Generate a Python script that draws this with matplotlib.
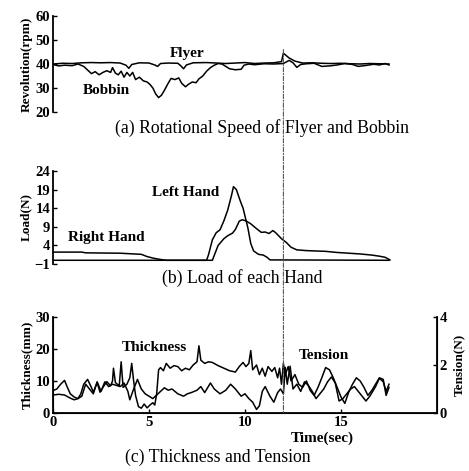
import matplotlib
matplotlib.use('Agg')
import matplotlib.pyplot as plt
from matplotlib.patches import ConnectionPatch

# (a) rotational speed, rpm
flyer_t = [0, 0.5, 1.0, 1.5, 2.0, 2.5, 3.0, 3.5, 3.8, 3.95, 4.1, 4.5, 5.0, 5.3, 5.45, 5.6,
           6.0, 6.5, 6.65, 6.8, 6.95, 7.3, 8.0, 8.5, 9.0, 9.5, 10.0, 10.5, 11.0, 11.5, 11.9,
           12.0, 12.3, 12.6, 13.0, 13.5, 14.0, 14.5, 15.0, 15.5, 16.0, 16.5, 17.0, 17.5]
flyer_v = [40, 40.3, 40.2, 40.5, 40.6, 40.5, 40.6, 40.4, 39.5, 38.2, 39.8, 40.5, 40.4, 39.6, 39.0, 40.2,
           40.4, 40.3, 39.3, 38.0, 39.6, 40.5, 40.6, 40.4, 40.2, 40.4, 40.6, 40.2, 40.4, 40.5, 41.0,
           44.5, 42.5, 41.2, 40.4, 40.5, 40.3, 40.2, 40.3, 40.1, 40.0, 40.2, 40.1, 40.0]
bobbin_t = [0, 0.3, 0.6, 1.0, 1.3, 1.6, 1.8, 2.0, 2.2, 2.4, 2.6, 2.8, 3.0, 3.1, 3.25, 3.4, 3.55,
            3.7, 3.85, 4.0, 4.15, 4.3, 4.5, 4.7, 4.9, 5.05, 5.2, 5.35, 5.5, 5.65, 5.8, 6.0, 6.15,
            6.35, 6.55, 6.7, 6.9, 7.05, 7.25, 7.45, 7.6, 7.8, 8.0, 8.2, 8.4, 8.6, 8.8, 9.0, 9.2,
            9.5, 9.8, 9.95, 10.2, 10.5, 11.0, 11.5, 12.0, 12.3, 12.5, 12.7, 12.9, 13.2, 13.6,
            14.0, 14.4, 14.8, 15.2, 15.6, 15.9, 16.3, 16.7, 17.0, 17.3, 17.5]
bobbin_v = [39.8, 39.2, 39.5, 39.3, 40.0, 39.0, 37.5, 36.0, 36.8, 35.5, 36.5, 37.2, 36.5, 38.5, 36.2,
            35.5, 37.0, 34.5, 36.5, 35.0, 36.5, 33.5, 34.5, 33.0, 32.5, 31.5, 30.0, 27.5, 26.0,
            27.0, 29.0, 32.0, 34.0, 33.5, 34.2, 32.0, 30.5, 31.5, 32.5, 32.2, 33.8, 35.0, 37.0,
            38.5, 39.5, 40.2, 40.0, 39.0, 38.0, 37.6, 37.8, 39.5, 40.0, 39.7, 40.1, 40.0, 40.2,
            41.5, 40.5, 38.6, 39.8, 40.1, 40.3, 39.0, 39.2, 39.6, 40.2, 39.8, 39.0, 39.4, 39.9,
            39.6, 40.2, 39.6]

# (b) load of each hand, N
left_t = [0, 8.0, 8.1, 8.3, 8.5, 8.7, 8.9, 9.1, 9.3, 9.4, 9.55, 9.75, 9.9, 10.15, 10.3, 10.45,
          10.7, 10.95, 11.15, 11.3, 17.5]
left_v = [0, 0, 1.5, 5.5, 7.4, 8.2, 10.6, 13.5, 17.5, 19.8, 19.0, 16.0, 14.0, 8.7, 4.5, 2.5,
          1.6, 1.4, 0.8, 0.1, 0]
right_t = [0, 1.5, 1.7, 3.5, 4.6, 4.9, 5.2, 5.5, 5.9, 8.3, 8.45, 8.6, 8.9, 9.1, 9.35, 9.5, 9.7,
           9.85, 10.05, 10.3, 10.6, 10.85, 11.05, 11.25, 11.45, 11.6, 11.9, 12.15, 12.4, 12.7,
           13.2, 14.2, 14.8, 15.4, 16.0, 16.6, 17.0, 17.3, 17.55]
right_v = [2.2, 2.2, 2.0, 1.9, 1.6, 1.0, 0.6, 0.3, 0, 0, 2.0, 4.0, 5.8, 6.6, 7.3, 8.3, 10.5,
           10.9, 10.6, 9.8, 8.5, 7.5, 7.6, 7.2, 8.0, 7.4, 5.8, 4.8, 3.5, 2.8,
           2.6, 2.4, 2.1, 1.9, 1.7, 1.4, 1.1, 0.8, 0.1]

# (c) thickness (mm) and tension (N)
thick_t = [0, 0.2, 0.4, 0.6, 0.75, 0.9, 1.1, 1.3, 1.45, 1.6, 1.8, 2.0, 2.1, 2.3, 2.45, 2.6, 2.8,
           3.0, 3.1, 3.15, 3.25, 3.45, 3.55, 3.65, 3.85, 4.0, 4.1, 4.2, 4.3, 4.45, 4.6, 4.75,
           4.9, 5.05, 5.2, 5.3, 5.4, 5.5, 5.6, 5.75, 5.9, 6.1, 6.3, 6.5, 6.7, 6.9, 7.1, 7.3,
           7.5, 7.6, 7.7, 7.9, 8.1, 8.3, 8.6, 8.9, 9.2, 9.5, 9.7, 9.9, 10.05, 10.2, 10.3, 10.4,
           10.6, 10.75, 10.9, 11.05, 11.2, 11.4, 11.55, 11.7, 11.8, 11.9, 12.0, 12.1, 12.25,
           12.4, 12.6, 12.8, 13.0, 13.2, 13.4, 13.6, 13.8, 14.0, 14.2, 14.4, 14.6, 14.8, 15.0,
           15.2, 15.4, 15.6, 15.8, 16.0, 16.2, 16.4, 16.6, 16.8, 17.0, 17.2, 17.35, 17.5]
thick_v = [7, 7.5, 9, 10.2, 8, 6, 5, 4.5, 6, 9, 10.5, 8, 6.5, 9.5, 6.5, 8, 9.8,
           8.5, 10, 14, 9.5, 8.5, 16, 8, 9, 11, 15.5, 10, 5.5, 2, 1.5, 2.8,
           1.6, 2.5, 3.2, 2.5, 6, 13.5, 14.2, 13.2, 15.5, 14, 14.8, 14.5, 13.2, 14, 13.5, 15,
           16, 21, 16.5, 15.5, 16, 15.8, 14.8, 14, 13.2, 12.8, 14.5, 15.8, 14.5, 15.5, 19.5, 13.5,
           15, 12, 14, 11.5, 14.5, 13, 14.2, 11, 14, 9, 15.5, 12, 14.5,
           10, 12, 9, 8, 10, 7, 5.5, 8, 11, 14.2, 13.5, 11, 8, 5,
           3, 6.5, 9, 11, 10, 8, 5.5, 7, 9, 11, 10.5, 5.5, 8]
tens_t = [0, 0.3, 0.6, 0.9, 1.1, 1.3, 1.5, 1.7, 1.9, 2.1, 2.3, 2.5, 2.7, 2.9, 3.1, 3.3, 3.5,
          3.7, 3.9, 4.0, 4.2, 4.4, 4.6, 4.8, 5.0, 5.2, 5.4, 5.6, 5.8, 6.0, 6.2, 6.5, 6.8, 7.0,
          7.2, 7.5, 7.7, 7.9, 8.2, 8.4, 8.7, 9.0, 9.25, 9.5, 9.8, 10.0, 10.2, 10.4, 10.6, 10.75,
          10.9, 11.05, 11.3, 11.5, 11.7, 11.85, 12.0, 12.1, 12.2, 12.35, 12.5, 12.7, 12.9, 13.1,
          13.3, 13.5, 13.7, 13.9, 14.1, 14.3, 14.5, 14.7, 14.9, 15.1, 15.3, 15.5, 15.7, 15.9,
          16.1, 16.3, 16.5, 16.8, 17.0, 17.2, 17.35, 17.5]
tens_v = [0.75, 0.78, 0.75, 0.62, 0.55, 0.6, 0.7, 1.2, 1.0, 0.8, 1.3, 0.9, 1.3, 1.1, 1.2, 1.15, 1.1,
          1.25, 0.9, 0.55, 1.0, 1.4, 1.0, 0.8, 0.7, 0.6, 0.75, 0.9, 1.05, 0.95, 1.0, 0.8, 0.7, 0.8,
          0.85, 0.95, 1.1, 0.85, 1.25, 1.0, 0.8, 0.95, 1.2, 1.0, 0.7, 0.8, 0.6, 0.45, 0.15, 0.3,
          0.9, 1.1, 0.7, 0.45, 0.85, 1.0, 0.8, 1.9, 1.2, 1.95, 1.0, 1.2, 0.9, 1.3,
          1.15, 0.9, 0.6, 0.8, 1.0, 1.3, 1.5, 1.25, 0.5, 0.6, 0.8, 1.0, 1.1, 0.9,
          0.7, 0.5, 0.7, 1.1, 1.45, 1.3, 0.9, 1.2]

plt.rcParams['font.family'] = ['Liberation Serif', 'DejaVu Serif']

fig = plt.figure(figsize=(4.69, 4.71), dpi=100)
W, H = 469, 471

def add_ax(top, bottom):
    return fig.add_axes([53 / W, 1 - bottom / H, 384 / W, (bottom - top) / H])

bold = dict(fontweight='bold', fontsize=11)
ylab = dict(fontweight='bold', fontsize=9.5)
lw = 1.1

# panel (a)
ax_a = add_ax(16, 112)
ax_a.plot(flyer_t, flyer_v, color='black', lw=lw)
ax_a.plot(bobbin_t, bobbin_v, color='black', lw=lw)
ax_a.set_xlim(0, 20)
ax_a.set_ylim(20, 60)
ax_a.set_yticks([20, 30, 40, 50, 60])
ax_a.set_ylabel('Revolution(rpm)', **ylab, labelpad=2)
ax_a.text(7.0, 44.2, 'Flyer', ha='center', va='center', **bold)
ax_a.text(2.8, 29.0, 'Bobbin', ha='center', va='center', **bold)

# panel (b)
ax_b = add_ax(171, 264)
ax_b.plot(left_t, left_v, color='black', lw=lw)
ax_b.plot(right_t, right_v, color='black', lw=lw)
ax_b.set_xlim(0, 20)
ax_b.set_ylim(-1, 24)
ax_b.set_yticks([-1, 4, 9, 14, 19, 24])
ax_b.set_ylabel('Load(N)', **ylab, labelpad=2)
ax_b.text(6.9, 18.3, 'Left Hand', ha='center', va='center', **bold)
ax_b.text(2.8, 6.0, 'Right Hand', ha='center', va='center', **bold)

for ax in (ax_a, ax_b):
    for s in ('top', 'right', 'bottom'):
        ax.spines[s].set_visible(False)
    ax.set_xticks([])
    ax.spines['left'].set_linewidth(1.3)

# panel (c)
ax_c = add_ax(317, 413)
ax_c.plot(thick_t, thick_v, color='black', lw=lw)
ax_c.set_xlim(0, 20)
ax_c.set_ylim(0, 30)
ax_c.set_xticks([0, 5, 10, 15])
ax_c.set_yticks([0, 10, 20, 30])
ax_c.set_ylabel('Thickness(mm)', **ylab, labelpad=2)
ax_c.spines['top'].set_visible(False)
ax_c.text(5.3, 20.5, 'Thickness', ha='center', va='center', **bold)
ax_c.text(14.1, 18, 'Tension', ha='center', va='center', **bold)
ax_c.text(14.0, -8.0, 'Time(sec)', ha='center', va='center', **bold)

ax_t = ax_c.twinx()
ax_t.plot(tens_t, tens_v, color='black', lw=lw)
ax_t.set_ylim(0, 4)
ax_t.set_yticks([0, 2, 4])
ax_t.set_ylabel('Tension(N)', **ylab, labelpad=4)
ax_t.spines['top'].set_visible(False)

for ax in (ax_a, ax_b, ax_c, ax_t):
    ax.tick_params(direction='in', length=3, width=1, labelsize=10.5, pad=2)
    for lab in ax.get_xticklabels() + ax.get_yticklabels():
        lab.set_fontweight('bold')
for s in ('left', 'bottom'):
    ax_c.spines[s].set_linewidth(1.3)
ax_t.spines['right'].set_linewidth(1.3)

# vertical dashed marker at t = 12 s across all panels
con = ConnectionPatch(xyA=(12, 46), coordsA=ax_a.transData,
                      xyB=(12, 0), coordsB=ax_c.transData,
                      color='#555555', lw=0.8, linestyle=(0, (4, 1.5, 1, 1.5)))
fig.add_artist(con)

# captions
cap = dict(ha='center', va='center', fontsize=12.8)
fig.text(262 / W, 1 - 128 / H, '(a) Rotational Speed of Flyer and Bobbin', **cap)
fig.text(242 / W, 1 - 278 / H, '(b) Load of each Hand', **cap)
fig.text(218 / W, 1 - 457 / H, '(c) Thickness and Tension', **cap)

fig.savefig('out.png', dpi=100, facecolor='white')
